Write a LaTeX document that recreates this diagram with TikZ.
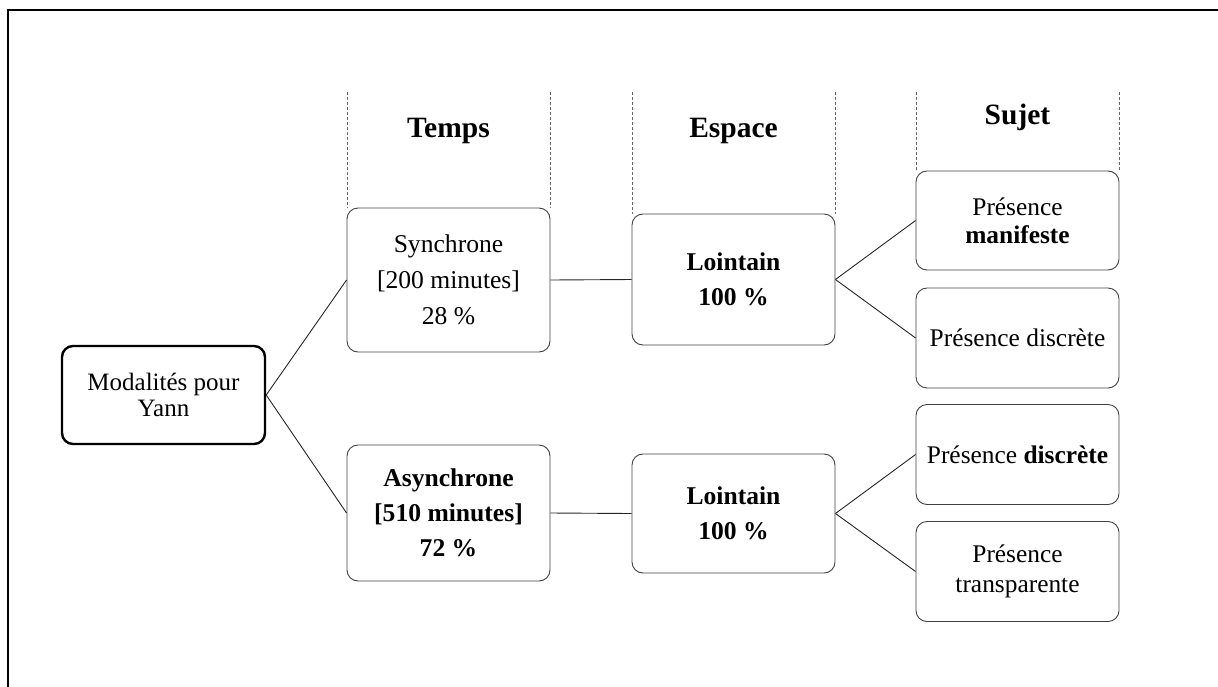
\documentclass[tikz,border=0pt]{standalone}
\usepackage{fontspec}
\setmainfont{Liberation Serif}
\begin{document}
\begin{tikzpicture}[x=1pt,y=-1pt,
  box/.style={draw=black!75,line width=0.9pt,rounded corners=11pt,align=center,inner sep=2pt,minimum width=203pt},
  mainbox/.style={draw=black,line width=2.4pt,rounded corners=11pt,align=center,inner sep=2pt,minimum width=203pt,minimum height=98pt},
  conn/.style={draw=black!85,line width=0.9pt},
  guide/.style={draw=black!60,line width=0.7pt,dash pattern=on 3pt off 2pt},
  head/.style={font=\fontsize{29.5}{33}\selectfont\bfseries}
]
\useasboundingbox (0,0) rectangle (1218,686);
% outer frame
\coordinate (fa) at (1218,10);
\coordinate (fb) at (8,10);
\coordinate (fc) at (8,686);
\draw[line width=2.4pt,line cap=rect] (fa) -- (fb) -- (fc);

% nodes
\node[mainbox,font=\fontsize{25}{26}\selectfont] (main) at (163.5,395) {Modalités pour\\Yann};
\node[box,minimum height=144pt,font=\fontsize{25.6}{36}\selectfont] (syn) at (448.5,280) {Synchrone\\{[200 minutes]}\\28 \%};
\node[box,minimum height=136pt,font=\fontsize{25.6}{35}\selectfont\bfseries] (asyn) at (448.5,513) {Asynchrone\\{[510 minutes]}\\72 \%};
\node[box,minimum height=131pt,font=\fontsize{25.6}{35}\selectfont\bfseries] (la) at (733.5,279.5) {Lointain\\100 \%};
\node[box,minimum height=119pt,font=\fontsize{25.6}{35}\selectfont\bfseries] (lb) at (733.5,513.5) {Lointain\\100 \%};
\node[box,minimum height=99pt,font=\fontsize{25.4}{28}\selectfont] (sa) at (1017.5,220.5) {Présence\\\textbf{manifeste}};
\node[box,minimum height=100pt,font=\fontsize{25.4}{28}\selectfont] (sb) at (1017.5,338) {Présence discrète};
\node[box,minimum height=100pt,font=\fontsize{25.4}{28}\selectfont] (sc) at (1017.5,454.5) {Présence \textbf{discrète}};
\node[box,minimum height=100pt,font=\fontsize{25.4}{30}\selectfont] (sd) at (1017.5,571.5) {Présence\\transparente};

% headers
\node[head] (ht) at (448.5,131) {Temps};
\node[head] (he) at (733.5,131) {Espace};
\node[head] (hs) at (1017.5,117) {Sujet};

% guide lines
\coordinate (g1) at (347,92);
\coordinate (g2) at (550,92);
\coordinate (g3) at (632,92);
\coordinate (g4) at (835,92);
\coordinate (g5) at (916,92);
\coordinate (g6) at (1119,92);
\draw[guide] (g1) -- (syn.north west -| g1);
\draw[guide] (g2) -- (syn.north east -| g2);
\draw[guide] (g3) -- (la.north west -| g3);
\draw[guide] (g4) -- (la.north east -| g4);
\draw[guide] (g5) -- (sa.north west -| g5);
\draw[guide] (g6) -- (sa.north east -| g6);

% connectors
\draw[conn] (main.east) -- (syn.west);
\draw[conn] (main.east) -- (asyn.west);
\draw[conn] (syn.east) -- (la.west);
\draw[conn] (asyn.east) -- (lb.west);
\draw[conn] (la.east) -- (sa.west);
\draw[conn] (la.east) -- (sb.west);
\draw[conn] (lb.east) -- (sc.west);
\draw[conn] (lb.east) -- (sd.west);
\end{tikzpicture}
\end{document}
